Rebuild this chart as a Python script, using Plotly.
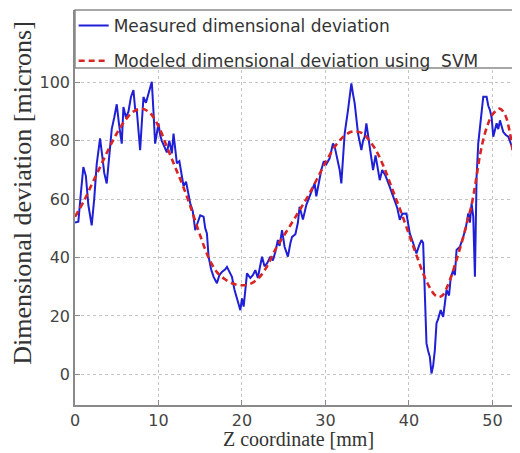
import plotly.graph_objects as go

# ---- data ----
z_measured = [0.0, 0.4, 0.7, 1.0, 1.3, 1.6, 2.0, 2.3, 2.6, 3.0, 3.3, 3.5, 3.8, 4.1, 4.4, 4.7,
              5.0, 5.3, 5.6, 5.8, 6.1, 6.4, 6.7, 7.0, 7.2, 7.4, 7.6, 7.8, 8.0, 8.2, 8.5, 8.8,
              9.2, 9.4, 9.6, 10.0, 10.2, 10.4, 10.7, 11.0, 11.3, 11.6, 11.8, 12.0, 12.2, 12.5,
              13.0, 13.3, 13.6, 13.8, 14.1, 14.4, 14.7, 15.0, 15.4, 15.6, 15.8, 16.0, 16.3,
              16.6, 17.0, 17.3, 17.6, 18.0, 18.2, 18.5, 18.8, 19.1, 19.4, 19.6, 19.8, 20.0,
              20.2, 20.4, 20.6, 21.0, 21.3, 21.6, 21.9, 22.1, 22.4, 22.7, 23.0, 23.4, 23.7,
              24.0, 24.3, 24.5, 24.8, 25.1, 25.5, 25.8, 26.0, 26.4, 26.7, 26.9, 27.3, 27.7,
              28.1, 28.4, 28.7, 28.9, 29.2, 29.5, 29.8, 30.1, 30.5, 30.9, 31.1, 31.4, 31.7,
              31.9, 32.1, 32.3, 32.7, 33.1, 33.3, 33.5, 33.9, 34.1, 34.3, 34.5, 34.7, 34.9,
              35.1, 35.4, 35.7, 36.0, 36.2, 36.5, 36.8, 37.2, 37.6, 38.0, 38.3, 38.6, 38.9,
              39.2, 39.7, 40.1, 40.5, 40.9, 41.2, 41.5, 41.7, 41.9, 42.1, 42.3, 42.5, 42.7,
              42.9, 43.1, 43.3, 43.5, 43.8, 44.1, 44.3, 44.5, 44.8, 45.0, 45.3, 45.5, 45.7,
              46.1, 46.5, 46.8, 47.1, 47.3, 47.5, 47.7, 47.9, 48.1, 48.3, 48.5, 48.9, 49.3,
              49.5, 49.7, 49.9, 50.1, 50.3, 50.5, 50.7, 50.9, 51.1, 51.3, 51.6, 51.9, 52.2,
              52.5, 52.9]
dev_measured = [52.0, 52.3, 62.0, 71.0, 68.0, 58.0, 51.0, 60.0, 72.0, 80.8, 74.0, 69.0, 65.4,
                75.0, 84.0, 88.0, 92.5, 85.0, 79.0, 91.6, 88.0, 90.0, 95.0, 97.4, 91.0, 90.5,
                84.0, 76.8, 86.0, 95.0, 93.0, 96.0, 100.2, 90.0, 79.0, 86.0, 82.0, 80.0, 78.0,
                76.0, 80.0, 75.7, 82.5, 78.0, 72.3, 73.0, 64.5, 66.0, 62.0, 58.6, 56.0, 49.4,
                52.0, 54.5, 54.0, 50.0, 48.3, 40.3, 36.0, 33.4, 31.2, 34.0, 35.1, 36.0, 36.8,
                35.0, 33.4, 29.0, 25.4, 24.0, 22.0, 26.0, 23.2, 28.0, 34.6, 33.0, 34.0, 35.7,
                33.0, 36.0, 40.3, 37.0, 38.0, 40.3, 39.0, 42.0, 46.0, 44.0, 49.4, 43.7, 40.3,
                45.0, 47.1, 48.0, 52.0, 57.4, 53.0, 58.0, 60.8, 63.0, 65.4, 61.0, 66.0, 70.0,
                73.0, 72.0, 74.0, 79.1, 78.0, 74.0, 70.0, 65.4, 75.0, 82.5, 90.5, 99.7, 96.0,
                92.8, 82.5, 80.0, 76.8, 80.0, 81.4, 86.0, 82.0, 76.0, 70.0, 75.0, 72.0, 66.5,
                70.0, 68.0, 65.0, 62.0, 59.7, 57.0, 52.9, 55.0, 55.1, 48.3, 45.0, 41.4, 44.0,
                46.0, 45.0, 30.0, 10.6, 8.0, 6.0, 0.3, 3.0, 8.3, 17.5, 19.0, 22.0, 19.7, 24.3,
                28.9, 27.0, 33.0, 35.7, 34.0, 42.6, 43.7, 47.1, 50.0, 55.1, 52.0, 58.6, 54.0,
                33.4, 67.7, 79.1, 84.8, 95.1, 95.1, 92.0, 90.5, 88.0, 81.4, 84.0, 86.0, 84.0,
                87.0, 85.0, 83.0, 82.0, 81.4, 79.0, 76.8, 80.0]

z_model = [0.0, 1.0, 2.0, 3.0, 4.0, 5.0, 6.0, 7.0, 8.0, 9.0, 10.0, 11.0, 12.0, 13.0, 14.0,
           15.0, 16.0, 17.0, 18.0, 19.0, 20.0, 21.0, 22.0, 23.0, 24.0, 25.0, 26.0, 27.0,
           28.0, 29.0, 30.0, 31.0, 32.0, 33.0, 33.7, 34.5, 35.0, 36.0, 37.0, 38.0, 39.0,
           40.0, 41.0, 42.0, 43.0, 43.5, 44.0, 44.5, 45.0, 45.5, 46.0, 46.5, 47.0, 47.5,
           48.0, 48.5, 49.0, 49.5, 50.0, 50.5, 50.9, 51.5, 52.0, 52.4, 52.7]
dev_model = [54.0, 59.0, 65.0, 71.0, 77.0, 82.5, 87.0, 90.0, 91.0, 89.5, 85.0, 78.0, 71.0,
             64.0, 56.0, 47.5, 40.0, 35.0, 32.5, 31.0, 30.5, 31.0, 33.0, 37.0, 42.8, 47.4,
             52.0, 56.7, 61.5, 67.0, 72.5, 77.5, 81.0, 83.0, 83.2, 82.5, 81.0, 77.0, 71.0,
             63.5, 56.0, 48.0, 40.0, 32.5, 27.5, 26.5, 27.0, 29.5, 33.0, 37.5, 42.0, 47.0,
             52.5, 58.0, 66.0, 75.0, 81.5, 86.0, 89.0, 90.5, 91.0, 89.0, 84.0, 77.0, 69.0]

x_ticks = [0, 10, 20, 30, 40, 50]
y_ticks = [0, 20, 40, 60, 80, 100]
legend_names = ["Measured dimensional deviation", "Modeled dimensional deviation using  SVM"]
x_title = "Z coordinate [mm]"
y_title = "Dimensional deviation [microns]"

# ---- figure ----
fig = go.Figure()
fig.add_trace(go.Scatter(x=z_measured, y=dev_measured, mode="lines", name=legend_names[0],
                         legendgroup="a",
                         line=dict(color="#1f1fd6", width=2)))
fig.add_trace(go.Scatter(x=z_model, y=dev_model, mode="lines", name=legend_names[1],
                         legendgroup="b", line_shape="spline",
                         line=dict(color="#d92424", width=2.6, dash="6px,4px")))

tick_font = dict(family="DejaVu Sans", size=16, color="#444444")
axis_common = dict(showgrid=True, gridcolor="#c4c4c4", griddash="dot", gridwidth=1,
                   showline=True, linecolor="#8a8a8a", linewidth=1.5,
                   ticks="inside", ticklen=5, tickcolor="#8a8a8a", zeroline=False,
                   tickfont=tick_font, automargin=False)

# the page body adds an 8px offset, so the figure is 8px smaller than the window
fig.update_layout(
    template="none",
    width=512, height=445,
    margin=dict(l=67, r=0, t=2, b=48, autoexpand=False),
    paper_bgcolor="white", plot_bgcolor="white",
    xaxis=dict(range=[0, 53.3], tickvals=x_ticks, **axis_common),
    yaxis=dict(range=[-10.5, 124.8], tickvals=y_ticks, **axis_common),
    showlegend=True,
    legend=dict(x=-0.003, y=1.005, xanchor="left", yanchor="top",
                bgcolor="rgba(0,0,0,0)", borderwidth=0,
                font=dict(family="DejaVu Sans", size=17, color="#333333"),
                itemwidth=30, tracegroupgap=10),
    shapes=[dict(type="rect", xref="paper", yref="paper", x0=0, x1=1, y0=0.853, y1=1.0,
                 line=dict(color="#8a8a8a", width=1.5), fillcolor="white", layer="above")],
    annotations=[
        dict(text=x_title, xref="paper", yref="paper", x=0.503, y=-0.117,
             xanchor="center", yanchor="bottom", showarrow=False, borderpad=0,
             font=dict(family="Liberation Serif", size=20, color="#333333")),
        dict(text=y_title, xref="paper", yref="paper", x=-0.117, y=0.537,
             xanchor="center", yanchor="middle", showarrow=False, textangle=-90,
             font=dict(family="Liberation Serif", size=26, color="#333333")),
    ],
)

fig.write_html("out.html")
